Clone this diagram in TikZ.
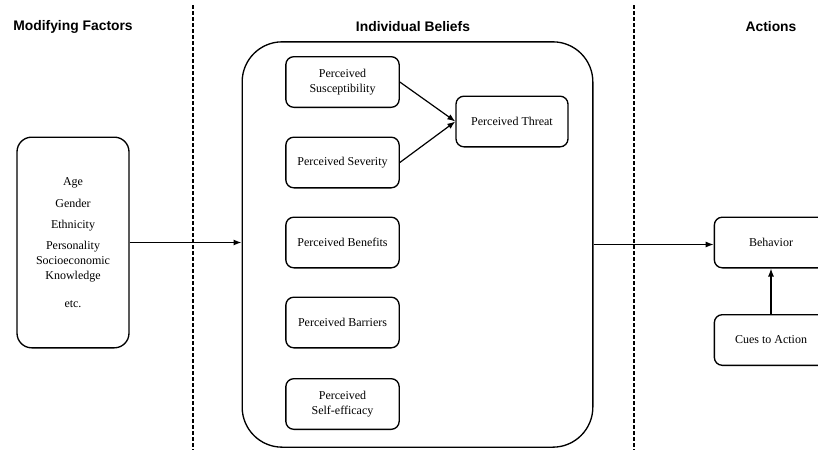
\documentclass[tikz,border=0pt]{standalone}
\usepackage{fontspec}
\setmainfont{Liberation Serif}
\newfontfamily\headfont{Liberation Sans}
\usetikzlibrary{arrows.meta}

\begin{document}
\begin{tikzpicture}[x=0.75pt,y=-0.75pt,
		box/.style={draw,line width=1pt,rounded corners=6pt,minimum width=85pt,minimum height=38pt,align=center,inner sep=2pt,font=\fontsize{9}{11}\selectfont},
		head/.style={font=\headfont\bfseries\fontsize{10.4}{12}\selectfont},
		arr/.style={-{Latex[length=6pt,width=4.5pt]},line width=0.9pt}]
	\useasboundingbox (0,0) rectangle (818,450);
	\draw[line width=0.8pt,dash pattern=on 3pt off 1.5pt] (193,5) -- (193,450);
	\draw[line width=0.8pt,dash pattern=on 3pt off 1.5pt] (634,5) -- (634,450);
	\node[head] (hmod) at (73,27) {Modifying Factors};
	\node[head] (hbel) at (413,27) {Individual Beliefs};
	\node[head] (hact) at (771,27) {Actions};
	\node[box,rounded corners=11pt,minimum width=84pt,minimum height=158pt] (factors) at (73,242.5) {Age\\[5pt]Gender\\[5pt]Ethnicity\\[5pt]Personality\\Socioeconomic\\Knowledge\\[10pt]etc.};
	\node[draw,line width=1pt,rounded corners=30pt,minimum width=263pt,minimum height=304pt] (beliefs) at (417.5,244.5) {};
	\node[box] (sus) at (342.5,82) {Perceived\\Susceptibility};
	\node[box] (sev) at (342.5,162.5) {Perceived Severity};
	\node[box] (ben) at (342.5,242.5) {Perceived Benefits};
	\node[box] (bar) at (342.5,322.5) {Perceived Barriers};
	\node[box] (eff) at (342.5,404) {Perceived\\Self-efficacy};
	\node[box,minimum width=84pt] (threat) at (512,121.5) {Perceived Threat};
	\node[box] (behav) at (771,242.5) {Behavior};
	\node[box] (cues) at (771,340) {Cues to Action};
	\draw[arr] (sus.east) -- (threat.west);
	\draw[arr] (sev.east) -- (threat.west);
	\draw[arr] (factors.east) -- (factors.east -| beliefs.west);
	\draw[arr] (beliefs.east) -- (beliefs.east -| behav.west);
	\draw[arr] (cues.north) -- (behav.south);
\end{tikzpicture}
\end{document}
